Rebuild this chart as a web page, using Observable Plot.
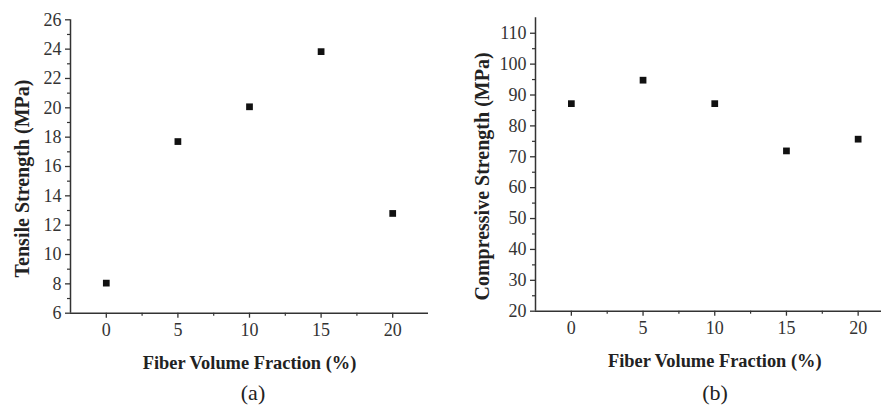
<!DOCTYPE html>
<html><head><meta charset="utf-8">
<script src="https://cdn.jsdelivr.net/npm/d3@7"></script>
<script src="https://cdn.jsdelivr.net/npm/@observablehq/plot@0.6"></script>
<style>
html,body{margin:0;padding:0;background:#fff;overflow:hidden;}
#wrap{position:relative;width:881px;height:405px;overflow:hidden;background:#fff;}
.panel{position:absolute;top:0;}
.cap{position:absolute;top:381px;height:24px;line-height:24px;font-family:"Liberation Serif",serif;font-size:22px;color:#222;transform:translateX(-50%);white-space:nowrap;}
</style></head><body><div id="wrap"></div>
<script>
// ---- data ----
const fiberFraction = [0, 5, 10, 15, 20];
const tensileStrength = [8.05, 17.7, 20.07, 23.83, 12.8];
const compressiveStrength = [87.2, 94.8, 87.2, 71.9, 75.7];
const xTicks = [0, 5, 10, 15, 20];
const xMinorTicks = [2.5, 7.5, 12.5, 17.5];
const tensileTicks = [6, 8, 10, 12, 14, 16, 18, 20, 22, 24, 26];
const tensileMinorTicks = [7, 9, 11, 13, 15, 17, 19, 21, 23, 25];
const compressiveTicks = [20, 30, 40, 50, 60, 70, 80, 90, 100, 110];
const compressiveMinorTicks = [25, 35, 45, 55, 65, 75, 85, 95, 105];
const xLabel = "Fiber Volume Fraction (%)";
const tensileLabel = "Tensile Strength (MPa)";
const compressiveLabel = "Compressive Strength (MPa)";
const captions = ["(a)", "(b)"];

function panel({yVals, yDomain, yTicks, yMinor, yLabel, width, marginLeft, marginRight, marginTop, marginBottom, yLabelDx}) {
  const data = fiberFraction.map((x, i) => ({x, y: yVals[i]}));
  return Plot.plot({
    width, height: 375, marginLeft, marginRight, marginTop, marginBottom,
    style: {fontFamily: "'Liberation Serif', 'Times New Roman', serif", fontSize: "18px", color: "#333", background: "transparent", overflow: "visible"},
    x: {domain: [-2.5, 22.5]},
    y: {domain: yDomain},
    marks: [
      Plot.axisX({ticks: xTicks, tickSize: 5, tickPadding: 5, label: null, strokeWidth: 1.3}),
      Plot.axisX({ticks: xMinorTicks, tickSize: 3, tickFormat: () => "", label: null, strokeWidth: 1.2}),
      Plot.axisY({ticks: yTicks, tickSize: 5, tickPadding: 4, label: null, strokeWidth: 1.3}),
      Plot.axisY({ticks: yMinor, tickSize: 3, tickFormat: () => "", label: null, strokeWidth: 1.2}),
      Plot.ruleX([-2.5], {stroke: "#333", strokeWidth: 1.5}),
      Plot.ruleY([yDomain[0]], {stroke: "#333", strokeWidth: 1.5}),
      Plot.dot(data, {x: "x", y: "y", symbol: "square", r: 3.8, fill: "#111", stroke: "none"}),
      Plot.text([xLabel], {text: d => d, frameAnchor: "bottom", lineAnchor: "middle", textAnchor: "middle", dy: 50, fontWeight: "bold", fontSize: 18.4, fill: "#222"}),
      Plot.text([yLabel], {text: d => d, frameAnchor: "left", lineAnchor: "middle", textAnchor: "middle", rotate: -90, dx: yLabelDx, dy: 12, fontWeight: "bold", fontSize: 20, fill: "#222"})
    ]
  });
}

const wrap = document.getElementById("wrap");
const a = panel({yVals: tensileStrength, yDomain: [6, 26], yTicks: tensileTicks, yMinor: tensileMinorTicks, yLabel: tensileLabel,
  width: 440, marginLeft: 70, marginRight: 12, marginTop: 19.3, marginBottom: 62.3, yLabelDx: -48});
a.classList.add("panel"); a.style.left = "0px";
wrap.appendChild(a);
const b = panel({yVals: compressiveStrength, yDomain: [20, 115], yTicks: compressiveTicks, yMinor: compressiveMinorTicks, yLabel: compressiveLabel,
  width: 455, marginLeft: 95, marginRight: 1.5, marginTop: 17.3, marginBottom: 64.3, yLabelDx: -53});
b.classList.add("panel"); b.style.left = "440px";
wrap.appendChild(b);

[[captions[0], 253], [captions[1], 715]].forEach(([t, x]) => {
  const d = document.createElement("div");
  d.className = "cap"; d.textContent = t; d.style.left = x + "px";
  wrap.appendChild(d);
});
</script></body></html>
